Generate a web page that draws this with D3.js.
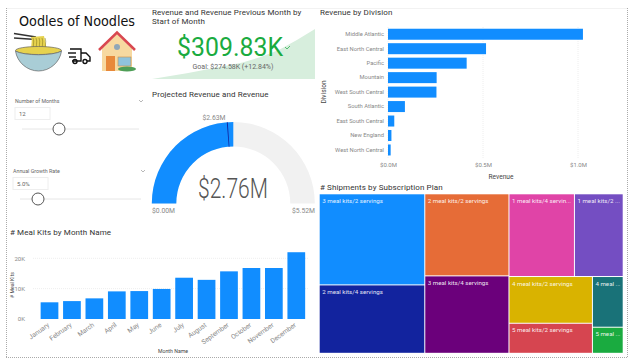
<!DOCTYPE html>
<html>
<head>
<meta charset="utf-8">
<script src="https://cdn.jsdelivr.net/npm/d3@7/dist/d3.min.js"></script>
<style>
  html, body { margin: 0; padding: 0; background: #fff; }
  text { font-family: Roboto, sans-serif; }
  .title { font-size: 8px; fill: #333; letter-spacing: 0.1px; }
  .tick-label { font-size: 6.8px; fill: #888; }
  .axis-title { font-size: 6.6px; fill: #444; }
</style>
</head>
<body>
<svg id="chart" width="635" height="364"></svg>
<script>
const divisions = ['Middle Atlantic', 'East North Central', 'Pacific', 'Mountain', 'West South Central', 'South Atlantic', 'East South Central', 'New England', 'West North Central']
const divisionRevenue = [1.026, 0.516, 0.414, 0.256, 0.255, 0.089, 0.033, 0.018, 0.014]
const revenueTicks = [0, 0.5, 1.0]

const months = ['January', 'February', 'March', 'April', 'May', 'June', 'July', 'August', 'September', 'October', 'November', 'December']
const mealKits = [5.5, 5.9, 6.8, 9.1, 9.2, 9.9, 13.6, 12.9, 15.7, 16.8, 16.8, 22]
const mealKitTicks = [0, 10, 20]

const planLabels = ['3 meal kits/2 servings', '2 meal kits/4 servings', '2 meal kits/2 servings', '3 meal kits/4 servings', '1 meal kits/4 servin...', '1 meal kits/2 ...', '4 meal kits/2 servings', '5 meal kits/2 servings', '4 meal ...', '5 meal ...']
const planShipments = [8630, 6480, 6200, 5850, 4860, 3620, 3500, 2250, 1400, 720]
const planColors = ['#118dff', '#12239e', '#e66c37', '#6b007b', '#e044a7', '#744ec2', '#d9b300', '#d64550', '#197278', '#1aab40']

const gaugeMax = 5.52
const gaugeValue = 2.76
const gaugeTarget = 2.63

const kpiTrend = [0, 6, 12, 19, 26, 33, 44, 58, 78, 100]

const svg = d3.select('#chart')
const BLUE = '#118dff'

// report frame
const frame = svg.append('g').attr('fill', 'none').attr('stroke', '#aaa').attr('stroke-dasharray', '1,1')
frame.append('line').attr('x1', 6.5).attr('x2', 6.5).attr('y1', 8).attr('y2', 357)
frame.append('line').attr('x1', 627.5).attr('x2', 627.5).attr('y1', 8).attr('y2', 357)
frame.append('line').attr('x1', 6).attr('x2', 628).attr('y1', 357.5).attr('y2', 357.5)
svg.append('line').attr('x1', 7).attr('x2', 627).attr('y1', 8.5).attr('y2', 8.5).attr('stroke', '#f2f2f2')

function title(x, y, s) {
  return svg.append('text').attr('class', 'title').attr('x', x).attr('y', y).text(s)
}

// logo
svg.append('text').attr('x', 19).attr('y', 25.5)
  .attr('textLength', 116).attr('lengthAdjust', 'spacingAndGlyphs')
  .style('font-family', 'DejaVu Sans').style('font-size', '14px')
  .attr('fill', '#111').text('Oodles of Noodles')

const bowl = svg.append('g')
bowl.append('line').attr('x1', 14).attr('y1', 33.5).attr('x2', 36).attr('y2', 37).attr('stroke', '#333').attr('stroke-width', 1.6)
bowl.append('line').attr('x1', 14).attr('y1', 38).attr('x2', 36).attr('y2', 39.5).attr('stroke', '#333').attr('stroke-width', 1.6)
bowl.append('path').attr('d', 'M31,37 C33,42 30,46 32,51 L47,51 C46,45 45,41 44,36 Z').attr('fill', '#e6d24e')
d3.range(33, 46, 3).forEach(x => {
  bowl.append('path').attr('d', `M${x},38 C${x + 2},42 ${x - 1},46 ${x + 1},51`).attr('fill', 'none').attr('stroke', '#8b7f22').attr('stroke-width', 0.6)
})
bowl.append('ellipse').attr('cx', 38.5).attr('cy', 50.5).attr('rx', 23).attr('ry', 4).attr('fill', '#e6d24e').attr('stroke', '#666').attr('stroke-width', 0.7)
bowl.append('path').attr('d', 'M15.5,51 C17,62 27,71 38.5,71 C50,71 60,62 61.5,51 C53,56 24,56 15.5,51 Z').attr('fill', '#a9cdd6').attr('stroke', '#666').attr('stroke-width', 0.7)

const truck = svg.append('g').attr('fill', 'none').attr('stroke', '#111').attr('stroke-width', 1.4)
truck.append('path').attr('d', 'M70,49 H81 V61 H72 M81,53 H86 L90,57 V61 H87')
truck.append('line').attr('x1', 68).attr('x2', 76).attr('y1', 53).attr('y2', 53)
truck.append('line').attr('x1', 69).attr('x2', 76).attr('y1', 57).attr('y2', 57)
truck.append('circle').attr('cx', 75).attr('cy', 61.5).attr('r', 2)
truck.append('circle').attr('cx', 85).attr('cy', 61.5).attr('r', 2)

const house = svg.append('g')
house.append('rect').attr('x', 102).attr('y', 47).attr('width', 30).attr('height', 24).attr('fill', '#f7d9a0')
house.append('path').attr('d', 'M117,34 L132,49 H102 Z').attr('fill', '#f7d9a0')
house.append('path').attr('d', 'M99,50 L117,32.5 L135,50').attr('fill', 'none').attr('stroke', '#d9484f').attr('stroke-width', 2.6)
house.append('circle').attr('cx', 117).attr('cy', 47).attr('r', 3).attr('fill', '#8fa7b8')
house.append('rect').attr('x', 106).attr('y', 56).attr('width', 9).attr('height', 15).attr('fill', '#e8893a')
house.append('rect').attr('x', 118).attr('y', 57).attr('width', 13).attr('height', 9).attr('fill', '#8fc3dc').attr('stroke', '#c98f4b').attr('stroke-width', 0.6)
house.append('ellipse').attr('cx', 127).attr('cy', 69).attr('rx', 9).attr('ry', 2.6).attr('fill', '#4e9e57')

// slicers
function slicer(x, y, w, name, val, knob) {
  svg.append('text').attr('x', x).attr('y', y).attr('font-size', 5.3).attr('fill', '#666').text(name)
  svg.append('path').attr('d', `M${x + w - 4},${y - 3} l2,2 l2,-2`).attr('fill', 'none').attr('stroke', '#888').attr('stroke-width', 0.6)
  svg.append('rect').attr('x', x).attr('y', y + 4.5).attr('width', 35).attr('height', 12).attr('fill', 'none').attr('stroke', '#eee')
  svg.append('text').attr('x', x + 4).attr('y', y + 13).attr('font-size', 6).attr('fill', '#666').text(val)
  svg.append('line').attr('x1', x + 7).attr('x2', x + w - 4).attr('y1', y + 26).attr('y2', y + 26).attr('stroke', '#e6e6e6')
  svg.append('circle').attr('cx', knob).attr('cy', y + 26).attr('r', 6).attr('fill', '#fff').attr('stroke', '#555').attr('stroke-width', 1)
}
slicer(15, 103, 128, 'Number of Months', '12', 59)
slicer(13, 173, 132, 'Annual Growth Rate', '5.0%', 38)

// KPI
title(152, 15, 'Revenue and Revenue Previous Month by')
title(152, 24, 'Start of Month')
const kx = d3.scaleLinear().domain([0, kpiTrend.length - 1]).range([152, 315])
const ky = d3.scaleLinear().domain([0, 100]).range([79, 29])
svg.append('path')
  .attr('d', d3.area().x((d, i) => kx(i)).y0(79).y1(d => ky(d))(kpiTrend))
  .attr('fill', '#d7eedd')
svg.append('text').attr('x', 230).attr('y', 56).attr('text-anchor', 'middle')
  .attr('textLength', 106).attr('lengthAdjust', 'spacingAndGlyphs')
  .style('font-size', '25px').attr('fill', '#1aab40').text('$309.83K')
svg.append('path').attr('d', 'M285,47 l2,2 l3,-3').attr('fill', 'none').attr('stroke', '#1aab40').attr('stroke-width', 0.7)
svg.append('text').attr('x', 233).attr('y', 68.5).attr('text-anchor', 'middle')
  .attr('font-size', 7).attr('fill', '#666').text('Goal: $274.58K (+12.84%)')

// gauge
title(152, 97, 'Projected Revenue and Revenue')
const gaugeX = 233.3, gaugeY = 203.5
const angle = d3.scaleLinear().domain([0, gaugeMax]).range([-Math.PI / 2, Math.PI / 2])
const gauge = svg.append('g').attr('transform', `translate(${gaugeX},${gaugeY})`)
const arc = d3.arc().innerRadius(57).outerRadius(81.5)
gauge.append('path').attr('d', arc({ startAngle: angle(0), endAngle: angle(gaugeMax) })).attr('fill', '#f1f1f1')
gauge.append('path').attr('d', arc({ startAngle: angle(0), endAngle: angle(gaugeValue) })).attr('fill', BLUE)
gauge.append('path').attr('d', arc({ startAngle: angle(gaugeTarget) - 0.006, endAngle: angle(gaugeTarget) + 0.006 })).attr('fill', '#12239e')
svg.append('text').attr('x', 233).attr('y', 198).attr('text-anchor', 'middle')
  .attr('textLength', 70).attr('lengthAdjust', 'spacingAndGlyphs')
  .style('font-weight', 300).style('font-size', '28px').attr('fill', '#555').text('$2.76M')
svg.append('text').attr('class', 'tick-label').attr('x', 214).attr('y', 119.5).attr('text-anchor', 'middle').text('$2.63M')
svg.append('text').attr('class', 'tick-label').attr('x', 152).attr('y', 213).text('$0.00M')
svg.append('text').attr('class', 'tick-label').attr('x', 315).attr('y', 213).attr('text-anchor', 'end').text('$5.52M')

// Revenue by Division
title(320, 15, 'Revenue by Division')
const rx = d3.scaleLinear().domain([0, 1]).range([388, 578])
const ry = d3.scaleBand().domain(divisions).range([27, 157.2]).paddingInner(0.24).paddingOuter(0.12)
svg.append('g').selectAll('line').data(revenueTicks).join('line')
  .attr('x1', d => rx(d)).attr('x2', d => rx(d)).attr('y1', 27).attr('y2', 158)
  .attr('stroke', '#eee').attr('stroke-dasharray', '1,1')
svg.append('g').selectAll('rect').data(divisions).join('rect')
  .attr('x', rx(0)).attr('y', d => ry(d))
  .attr('width', (d, i) => rx(divisionRevenue[i]) - rx(0)).attr('height', ry.bandwidth())
  .attr('fill', BLUE)
const ryAxis = svg.append('g').attr('transform', 'translate(387,0)').call(d3.axisLeft(ry).tickSize(0).tickPadding(3))
ryAxis.select('.domain').remove()
ryAxis.selectAll('text').attr('class', 'tick-label').style('font-size', '5.8px')
const rxAxis = svg.append('g').attr('transform', 'translate(0,158)')
  .call(d3.axisBottom(rx).tickValues(revenueTicks).tickSize(0).tickPadding(5).tickFormat(d => `$${d.toFixed(1)}M`))
rxAxis.select('.domain').remove()
rxAxis.selectAll('text').attr('class', 'tick-label').style('font-size', '6px')
svg.append('text').attr('class', 'axis-title').attr('x', 501).attr('y', 179).attr('text-anchor', 'middle').text('Revenue')
svg.append('text').attr('class', 'axis-title').attr('transform', 'translate(326,92) rotate(-90)').attr('text-anchor', 'middle').text('Division')

// Shipments treemap
title(320, 190, '# Shipments by Subscription Plan')
const planNode = i => ({ i, value: planShipments[i] })
const root = d3.hierarchy({ children: [
  { children: [planNode(0), planNode(1)] },
  { children: [planNode(2), planNode(3)] },
  { children: [
    { children: [planNode(4), planNode(5)] },
    { children: [
      { children: [planNode(6), planNode(7)] },
      { children: [planNode(8), planNode(9)] }
    ] }
  ] }
] }).sum(d => d.value || 0)
// columns across, then alternate down and across like the report's layout
d3.treemap().size([304, 159.5]).tile((node, x0, y0, x1, y1) => {
  if (node.depth % 2 === 0) d3.treemapDice(node, x0, y0, x1, y1)
  else d3.treemapSlice(node, x0, y0, x1, y1)
})(root)
const cells = svg.append('g').attr('transform', 'translate(319.7,194.3)')
  .selectAll('g').data(root.leaves()).join('g')
  .attr('transform', d => `translate(${d.x0},${d.y0})`)
cells.append('rect')
  .attr('width', d => d.x1 - d.x0 - 1).attr('height', d => d.y1 - d.y0 - 1)
  .attr('fill', d => planColors[d.data.i])
cells.append('text').attr('x', 2.5).attr('y', 8.5)
  .attr('font-size', 6.2).attr('fill', '#fff').attr('fill-opacity', 0.9)
  .text(d => planLabels[d.data.i])

// Meal kits by month
title(10, 235, '# Meal Kits by Month Name')
const mx = d3.scaleBand().domain(months).range([38.4, 307.4]).paddingInner(0.21).paddingOuter(0.1)
const my = d3.scaleLinear().domain([0, 20]).range([319, 258.3])
svg.append('g').selectAll('line').data(mealKitTicks.slice(1)).join('line')
  .attr('x1', 33).attr('x2', 308).attr('y1', d => my(d)).attr('y2', d => my(d))
  .attr('stroke', '#eee').attr('stroke-dasharray', '1,1')
svg.append('g').selectAll('rect').data(months).join('rect')
  .attr('x', d => mx(d)).attr('y', (d, i) => my(mealKits[i]))
  .attr('width', mx.bandwidth()).attr('height', (d, i) => my(0) - my(mealKits[i]))
  .attr('fill', BLUE)
const myAxis = svg.append('g').attr('transform', 'translate(28,0)')
  .call(d3.axisLeft(my).tickValues(mealKitTicks).tickSize(0).tickFormat(d => `${d}K`))
myAxis.select('.domain').remove()
myAxis.selectAll('text').attr('class', 'tick-label').style('font-size', '6px')
const mxAxis = svg.append('g').attr('transform', 'translate(0,321)').call(d3.axisBottom(mx).tickSize(0).tickPadding(0))
mxAxis.select('.domain').remove()
mxAxis.selectAll('text').attr('class', 'tick-label').style('font-size', '6.6px')
  .attr('text-anchor', 'end').attr('y', 0).attr('dy', '0.35em').attr('transform', 'translate(-1,3) rotate(-36)')
svg.append('text').attr('x', 173).attr('y', 353).attr('text-anchor', 'middle').attr('font-size', 5.2).attr('fill', '#444').text('Month Name')
svg.append('text').attr('transform', 'translate(14,285) rotate(-90)').attr('text-anchor', 'middle').attr('font-size', 5.2).attr('fill', '#444').text('# Meal Kits')
</script>
</body>
</html>
